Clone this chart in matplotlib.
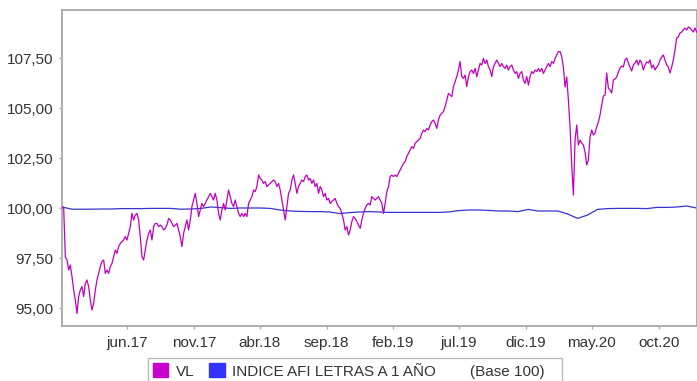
import numpy as np
import pandas as pd
import matplotlib
matplotlib.use("Agg")
import matplotlib.pyplot as plt
from matplotlib.patches import Patch

plt.rcParams["font.family"] = ["Liberation Sans", "DejaVu Sans"]

# fund net asset value (VL), base 100
vl = [
    100.0, 100.05, 97.55, 97.4, 96.9, 97.15, 96.57, 95.9, 95.4, 94.73,
    95.57, 95.9, 96.07, 95.57, 96.23, 96.4, 96.07, 95.4, 94.9, 95.23,
    95.9, 96.4, 96.73, 97.07, 97.32, 97.4, 96.73, 96.9, 96.73, 97.07,
    97.23, 97.57, 97.9, 97.73, 98.07, 98.23, 98.32, 98.4, 98.57, 98.4,
    98.73, 99.07, 99.73, 99.4, 99.65, 99.73, 99.4, 98.57, 97.57, 97.4,
    97.9, 98.4, 98.73, 98.9, 98.4, 99.07, 99.23, 99.23, 99.07, 99.15,
    99.07, 98.9, 98.98, 99.15, 99.48,
    99.4, 99.23, 99.07, 99.15, 99.23, 98.9, 98.57, 98.07, 98.73, 99.07,
    99.4, 98.9, 99.4, 100.07, 100.4, 100.73, 100.23, 99.57, 99.9, 100.23,
    100.07, 100.23, 100.4, 100.57, 100.73, 100.57, 100.4, 100.73, 100.4, 99.73,
    99.4, 99.9, 100.23, 99.9, 100.4, 100.9, 100.57, 100.23, 100.07, 100.4,
    100.07, 99.73, 99.57, 99.73, 99.57, 99.73, 99.57, 100.23, 100.4, 100.57,
    100.9, 100.82, 101.07, 101.65, 101.48, 101.4, 101.23, 101.32, 101.07, 101.15,
    101.23, 101.32,
    101.4, 101.32, 101.07, 101.23, 100.9, 100.4, 99.9, 99.4, 100.07, 100.73,
    100.9, 101.4, 101.65, 101.23, 100.73, 101.07, 101.23, 101.4, 101.32, 101.57,
    101.65, 101.4, 101.48, 101.23, 101.4, 101.07, 101.23, 100.73, 101.07, 100.9,
    100.57, 100.73, 100.4, 100.48, 100.23, 100.32, 100.4, 100.48, 100.23, 100.07,
    99.98, 99.73, 99.4, 98.9, 99.07, 98.65, 98.9, 99.32, 99.57, 99.48,
    99.32, 99.15, 98.98, 99.4, 99.73, 99.98, 100.15, 100.23, 100.15, 100.57,
    100.48, 100.4, 100.48, 100.57,
    100.4, 100.23, 99.73, 100.23, 100.82, 101.07, 101.57, 101.65, 101.57, 101.65,
    101.57, 101.73, 101.9, 102.07, 102.23, 102.32, 102.57, 102.73, 102.9, 103.07,
    102.98, 103.23, 103.32, 103.4, 103.48, 103.73, 103.9, 103.82, 103.98, 103.9,
    104.15, 104.32, 104.4, 104.23, 103.98, 104.4, 104.65, 104.73, 104.82, 105.07,
    105.4, 105.73, 105.65, 105.57, 106.07, 106.32, 106.57, 106.9, 107.32, 106.57,
    106.48, 106.65, 106.07, 106.57, 106.82, 106.9, 106.73, 106.98, 106.57, 106.9,
    107.23, 107.15, 107.48,
    107.23, 107.4, 107.07, 106.9, 106.57, 107.07, 107.23, 107.4, 107.23, 107.07,
    107.23, 107.07, 106.98, 107.15, 106.9, 107.07, 107.15, 106.9, 106.73, 106.82,
    106.48, 106.73, 106.82, 106.4, 106.23, 106.57, 106.15, 106.57, 106.82, 106.73,
    106.9, 106.82, 106.98, 106.82, 106.98, 106.73, 106.9, 107.07, 107.23, 107.07,
    107.32, 107.23, 107.48, 107.65, 107.82, 107.82, 107.57, 107.05, 106.05, 106.55,
    105.4, 104.05, 102.15, 100.65,
    103.4, 104.15, 103.15, 103.4, 103.25, 103.15, 102.8, 102.15, 102.4, 103.55,
    103.9, 103.65, 103.75, 104.05, 104.3, 104.65, 105.15, 105.6, 105.65, 106.75,
    106.0, 105.9, 105.75, 106.4, 106.45, 106.55, 106.8, 107.0, 107.1, 107.05,
    107.4, 107.5, 107.25, 107.05, 106.85, 107.15, 107.25, 107.4, 107.15, 107.4,
    107.25, 106.9, 107.15, 107.3, 107.25, 107.4, 107.0, 107.15, 106.9, 107.05,
    107.15, 107.4, 107.55, 107.65, 107.4, 107.15, 107.05, 106.75, 107.05, 107.4,
    107.9, 108.5, 108.55, 108.75, 108.8, 108.9, 109.0, 108.9, 109.05, 109.0,
    108.9, 108.8, 109.0, 108.8,
]

# benchmark index, base 100
indice = [
    100.05, 99.94, 99.94, 99.94, 99.95, 99.95, 99.97, 99.97, 99.97, 99.98,
    99.98, 99.98, 99.94, 99.95, 99.98, 100.05, 100.02, 99.98, 100.0, 100.0,
    100.0, 99.98, 99.9, 99.85, 99.83, 99.82, 99.82, 99.8, 99.72, 99.77,
    99.8, 99.82, 99.8, 99.78, 99.78, 99.78, 99.78, 99.78, 99.78, 99.8,
    99.87, 99.9, 99.9, 99.88, 99.85, 99.85, 99.82, 99.93, 99.85, 99.85,
    99.85, 99.7, 99.48, 99.65, 99.93, 99.97, 99.98, 99.98, 99.98, 99.97,
    100.03, 100.03, 100.05, 100.1, 100.0,
]

start, end = "2017-01-03", "2020-12-27"
fechas_vl = pd.date_range(start, end, periods=len(vl))
fechas_idx = pd.date_range(start, end, periods=len(indice))

tick_dates = ["2017-06-01", "2017-11-01", "2018-04-01", "2018-09-01", "2019-02-01",
              "2019-07-01", "2019-12-01", "2020-05-01", "2020-10-01"]
tick_labels = ["jun.17", "nov.17", "abr.18", "sep.18", "feb.19",
               "jul.19", "dic.19", "may.20", "oct.20"]
y_ticks = [95.0, 97.5, 100.0, 102.5, 105.0, 107.5]
y_labels = ["95,00", "97,50", "100,00", "102,50", "105,00", "107,50"]

c_vl = "#C000C0"
c_idx = "#3434CC"

fig = plt.figure(figsize=(6.97, 3.81), dpi=100)
ax = fig.add_axes([62 / 697, 1 - 326 / 381, 1 - 62 / 697 - 0.0005, (326 - 10) / 381])

ax.plot(fechas_idx, indice, color=c_idx, lw=0.9, zorder=2)
ax.plot(fechas_vl, vl, color=c_vl, lw=0.9, zorder=3)

ax.set_xlim(pd.Timestamp(start), pd.Timestamp(end))
ax.set_ylim(94.1, 109.9)
ax.set_xticks(pd.to_datetime(tick_dates))
ax.set_xticklabels(tick_labels)
ax.set_yticks(y_ticks)
ax.set_yticklabels(y_labels)

for s in ax.spines.values():
    s.set_color("#A8A8A8")
    s.set_linewidth(1.3)
ax.tick_params(axis="both", colors="#A8A8A8", labelcolor="#333333", labelsize=11,
               length=2.5, width=1)
ax.tick_params(axis="x", pad=4.5)
ax.tick_params(axis="y", pad=3.5)

handles = [Patch(facecolor="#CC00CC", edgecolor="#CC00CC"),
           Patch(facecolor="#3333FF", edgecolor="#3333FF")]
leg = fig.legend(handles, ["VL", "INDICE AFI LETRAS A 1 AÑO        (Base 100)   "],
                 loc="upper left", bbox_to_anchor=(148 / 697, 1 - 358 / 381),
                 ncol=2, fontsize=11, frameon=True, fancybox=False,
                 handlelength=1.0, handleheight=1.0, handletextpad=0.5,
                 columnspacing=1.0, borderpad=0.3, borderaxespad=0)
leg.get_frame().set_edgecolor("#A8A8A8")
leg.get_frame().set_linewidth(1.0)
for t in leg.get_texts():
    t.set_color("#333333")

fig.savefig("out.png", dpi=100)
